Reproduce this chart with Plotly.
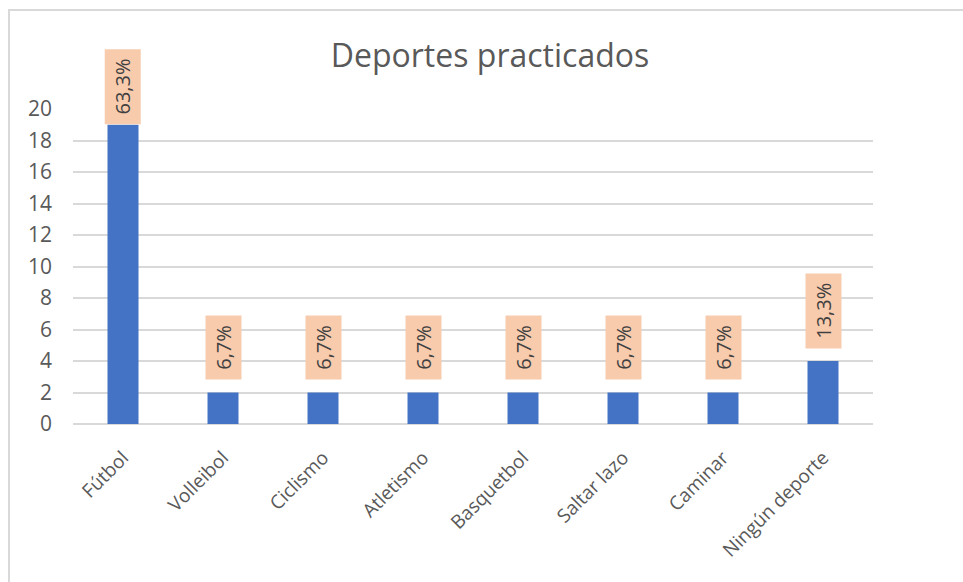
import plotly.graph_objects as go

categories = ["Fútbol", "Volleibol", "Ciclismo", "Atletismo", "Basquetbol",
              "Saltar lazo", "Caminar", "Ningún deporte"]
values = [19, 2, 2, 2, 2, 2, 2, 4]
pct_labels = ["63,3%", "6,7%", "6,7%", "6,7%", "6,7%", "6,7%", "6,7%", "13,3%"]
y_ticks = list(range(0, 21, 2))
title_text = "Deportes practicados"

FONT = "Open Sans, Liberation Sans, sans-serif"
W, H = 963, 582
L, R, T, B = 73, 90, 109, 158
PW, PH = W - L - R, H - T - B

fig = go.Figure()
fig.add_trace(go.Bar(
    x=categories, y=values,
    marker=dict(color="#4472C4", line=dict(width=0)),
    hoverinfo="skip",
))

vmax = max(values)
for c, v, t in zip(categories, values, pct_labels):
    fig.add_annotation(
        x=c, y=v, xref="x", yref="y",
        text="\u00a0" + t + "\u00a0", textangle=-90, showarrow=False,
        yanchor="bottom", yshift=0 if v == vmax else 12,
        bgcolor="#F8CBAD", borderpad=4,
        font=dict(family=FONT, size=20, color="#404040"),
    )

# chart frame
fig.add_shape(type="rect", xref="paper", yref="paper",
              x0=(9 - L) / PW, x1=(W + 10 - L) / PW,
              y0=-(B + 10) / PH,
              y1=1 + (T - 10) / PH,
              line=dict(color="#D9D9D9", width=2), fillcolor="rgba(0,0,0,0)",
              layer="below")

fig.update_layout(
    width=W, height=H,
    margin=dict(l=L, r=R, t=T, b=B),
    paper_bgcolor="white", plot_bgcolor="rgba(0,0,0,0)",
    bargap=0.69, showlegend=False,
    title=dict(text=title_text, x=(490 - L) / PW, xanchor="center", xref="paper",
               y=1 - 56 / H, yanchor="middle",
               font=dict(family=FONT, size=32, color="#595959")),
    font=dict(family=FONT, color="#595959"),
)
fig.update_xaxes(
    tickangle=-45, tickfont=dict(family=FONT, size=19, color="#595959"),
    showgrid=False, showline=False, ticks="", fixedrange=True,
    ticklabelstandoff=18,
)
fig.update_yaxes(
    range=[0, 20], tickvals=y_ticks, showgrid=True, gridcolor="#D9D9D9",
    gridwidth=1.5, zeroline=True, zerolinecolor="#D9D9D9", zerolinewidth=1.5,
    tickfont=dict(family=FONT, size=21, color="#595959"),
    ticks="", showline=False, ticklabelstandoff=20, fixedrange=True,
)

fig.write_html("out.html", config={"displayModeBar": False},
               post_script="document.body.style.margin='0';")
